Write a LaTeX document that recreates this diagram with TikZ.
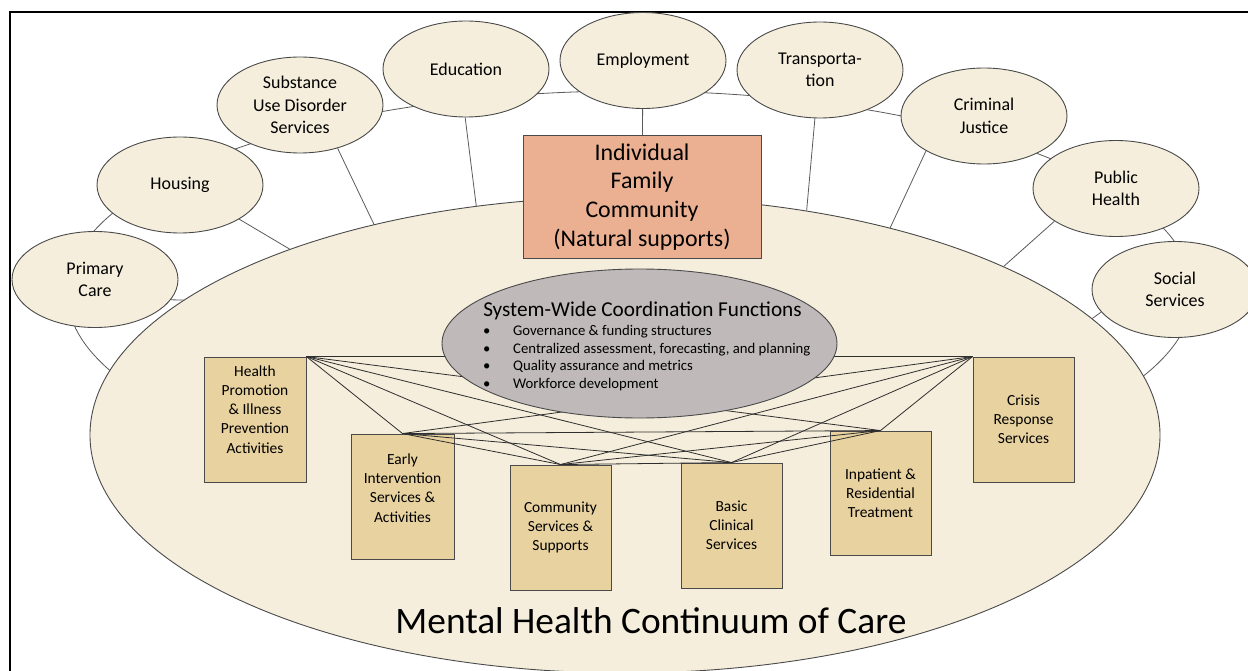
\documentclass[tikz,border=0pt]{standalone}
\usepackage{fontspec}
\setmainfont{Carlito}
\usetikzlibrary{shapes.geometric}
\definecolor{cream}{HTML}{F5EEDC}
\definecolor{salmon}{HTML}{EBB092}
\definecolor{greyfill}{HTML}{BFB9BA}
\definecolor{tanfill}{HTML}{E8D29F}
\definecolor{outl}{HTML}{4A4A4A}
\definecolor{linec}{HTML}{5A5A5A}
\definecolor{netc}{HTML}{2E2E2E}
\begin{document}
\begin{tikzpicture}[x=1bp,y=-1bp,
  sat/.style={ellipse, draw=outl, fill=cream, line width=0.9bp, minimum width=166bp, minimum height=96bp, inner sep=0pt, align=center, font=\fontsize{18}{22.5}\selectfont},
  spoke/.style={draw=linec, line width=0.8bp},
  tanbox/.style={rectangle, draw=outl, fill=tanfill, line width=0.9bp, minimum width=102bp, minimum height=125bp, inner sep=0pt},
  boxtext/.style={align=center, inner sep=0pt, font=\fontsize{15.5}{19.2}\selectfont},
  net/.style={draw=netc, line width=0.8bp}
]
\useasboundingbox (0,0) rectangle (1248,671);
% frame
\draw[line width=2bp] (10,675) -- (10,12) -- (1252,12);
% outer ring
\draw[linec, line width=0.8bp] (630,293) ellipse [x radius=563, y radius=202];
% big ellipse
\node[ellipse, draw=outl, fill=cream, line width=0.9bp, minimum width=1070bp, minimum height=476bp, inner sep=0pt] (mhc) at (625,435) {};
% satellites
\node[sat] (pc) at (95,279.5) {Primary\\Care};
\node[sat] (hous) at (180,185) {Housing};
\node[sat] (sud) at (300,105) {Substance\\Use Disorder\\Services};
\node[sat] (edu) at (466,69) {Education};
\node[sat] (emp) at (643,60.5) {Employment};
\node[sat] (trans) at (820,70) {Transporta-\\tion};
\node[sat] (cj) at (984,116) {Criminal\\Justice};
\node[sat] (ph) at (1116,188.5) {Public\\Health};
\node[sat] (ss) at (1175,289.5) {Social\\Services};
% central box
\node[rectangle, draw=outl, fill=salmon, line width=0.9bp, minimum width=238bp, minimum height=123bp, inner sep=0pt, align=center, font=\fontsize{24}{29}\selectfont] (indiv) at (642,197) {Individual\\Family\\Community\\(Natural supports)};
% spokes
\draw[spoke] (pc.-15) -- (mhc.163.7);
\draw[spoke] (hous.-30) -- (mhc.151.7);
\draw[spoke] (sud.-49) -- (mhc.140.3);
\draw[spoke] (edu.-91) -- (mhc.123.2);
\draw[spoke] (emp) -- (indiv);
\draw[spoke] (trans.-96) -- (mhc.51.9);
\draw[spoke] (cj.-149) -- (mhc.38.4);
\draw[spoke] (ph.-152) -- (mhc.24.1);
\draw[spoke] (ss.-163) -- (mhc.14.4);
% service boxes
\node[tanbox] (hp) at (255,419.5) {};
\node[boxtext] at (255,409.5) {Health\\Promotion\\\& Illness\\Prevention\\Activities};
\node[tanbox, minimum width=103bp] (ei) at (402.5,496.5) {};
\node[boxtext] at (402.5,488) {Early\\Intervention\\Services \&\\Activities};
\node[tanbox, minimum width=101bp] (cs) at (560.5,527.5) {};
\node[boxtext] at (560.5,527.5) {Community\\Services \&\\Supports};
\node[tanbox, minimum width=101bp] (bc) at (731.5,525.5) {};
\node[boxtext] at (731.5,525) {Basic\\Clinical\\Services};
\node[tanbox, minimum width=101bp, minimum height=124bp] (ip) at (880.5,493) {};
\node[boxtext] at (880.5,493) {Inpatient \&\\Residential\\Treatment};
\node[tanbox, minimum width=101bp] (cr) at (1023.5,419.5) {};
\node[boxtext] at (1023.5,419) {Crisis\\Response\\Services};
% network
\coordinate (a1) at (hp.north east);
\coordinate (a2) at (ei.north);
\coordinate (a3) at (cs.north);
\coordinate (a4) at (bc.north);
\coordinate (a5) at (ip.north);
\coordinate (a6) at (cr.north west);
\foreach \i/\j in {a1/a2,a1/a3,a1/a4,a1/a5,a1/a6,a2/a3,a2/a4,a2/a5,a2/a6,a3/a4,a3/a5,a3/a6,a4/a5,a4/a6,a5/a6}
  \draw[net] (\i) -- (\j);
% coordination ellipse
\node[ellipse, draw=outl, fill=greyfill, line width=0.9bp, minimum width=395bp, minimum height=149bp, inner sep=0pt] (sys) at (639.5,343.5) {};
\node[inner sep=0pt, font=\fontsize{21.3}{25}\selectfont] (systitle) at (642.5,311) {System-Wide Coordination Functions};
\node[inner sep=0pt, anchor=west, align=left, font=\fontsize{14.8}{17.7}\selectfont] (sysitems) at (483,358)
  {\makebox[30bp][l]{\textbullet}Governance \& funding structures\\
   \makebox[30bp][l]{\textbullet}Centralized assessment, forecasting, and planning\\
   \makebox[30bp][l]{\textbullet}Quality assurance and metrics\\
   \makebox[30bp][l]{\textbullet}Workforce development};
% title
\node[inner sep=0pt, font=\fontsize{37.5}{44}\selectfont] (mhctitle) at (651,621) {Mental Health Continuum of Care};
\end{tikzpicture}
\end{document}
